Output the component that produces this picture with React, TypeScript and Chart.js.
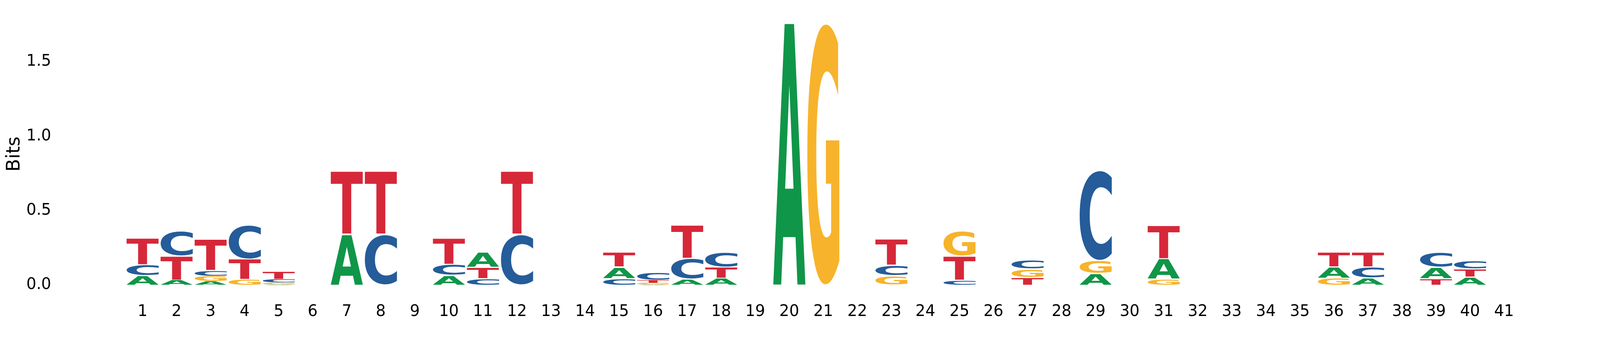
import { useEffect, useRef } from "react";
import { Chart, registerables } from "chart.js";

Chart.register(...registerables);

// Position labels (x axis)
const positions = [
  "1", "2", "3", "4", "5", "6", "7", "8", "9", "10",
  "11", "12", "13", "14", "15", "16", "17", "18", "19", "20",
  "21", "22", "23", "24", "25", "26", "27", "28", "29", "30",
  "31", "32", "33", "34", "35", "36", "37", "38", "39", "40", "41",
];

// Information content (bits) of each nucleotide at each position
const bitsA = [
  0.064, 0.033, 0.026, 0.0, 0.005, 0, 0.34, 0, 0, 0.066,
  0.104, 0, 0, 0, 0.077, 0.004, 0.04, 0.046, 0, 1.76,
  0, 0, 0, 0, 0, 0, 0, 0, 0.079, 0,
  0.136, 0, 0, 0, 0, 0.076, 0.046, 0, 0.077, 0.053, 0,
];
const bitsC = [
  0.074, 0.167, 0.036, 0.227, 0.022, 0, 0, 0.34, 0, 0.074,
  0.044, 0.34, 0, 0, 0.044, 0.054, 0.138, 0.102, 0, 0,
  0, 0, 0.073, 0, 0.032, 0, 0.06, 0, 0.606, 0,
  0, 0, 0, 0, 0, 0, 0.076, 0, 0.101, 0.058, 0,
];
const bitsG = [
  0, 0, 0.034, 0.038, 0.012, 0, 0, 0, 0, 0,
  0, 0, 0, 0, 0, 0.01, 0, 0, 0, 0,
  1.76, 0, 0.062, 0, 0.166, 0, 0.057, 0, 0.086, 0,
  0.041, 0, 0, 0, 0, 0.046, 0, 0, 0, 0, 0,
];
const bitsT = [
  0.179, 0.163, 0.21, 0.137, 0.053, 0, 0.426, 0.426, 0, 0.178,
  0.076, 0.426, 0, 0, 0.101, 0.018, 0.225, 0.075, 0, 0,
  0, 0, 0.176, 0, 0.164, 0, 0.05, 0, 0, 0,
  0.225, 0, 0, 0, 0, 0.101, 0.101, 0, 0.044, 0.056, 0,
];

const letters = ["A", "C", "G", "T"];
const letterColors = ["#109648", "#255C99", "#F7B32B", "#D62839"];
const yTicks = [0, 0.5, 1.0, 1.5];

function buildDatasets() {
  const series = [bitsA, bitsC, bitsG, bitsT];
  const ranges: [number, number][][] = series.map(() => []);
  const totals: number[] = [];
  for (let i = 0; i < positions.length; i++) {
    // smallest letter at the bottom, largest on top
    const order = [0, 1, 2, 3].sort((a, b) => series[a][i] - series[b][i]);
    let acc = 0;
    for (const k of order) {
      const v = series[k][i];
      ranges[k][i] = [acc, acc + v];
      acc += v;
    }
    totals.push(acc);
  }
  const datasets = letters.map((ch, k) => ({
    label: ch,
    data: ranges[k],
    backgroundColor: "rgba(0,0,0,0)",
    borderWidth: 0,
    barPercentage: 0.95,
    categoryPercentage: 1.0,
    glyph: ch,
    glyphColor: letterColors[k],
  }));
  return { datasets, maxTotal: Math.max(...totals) };
}

const glyphPlugin = {
  id: "glyphs",
  afterDatasetsDraw(chart: any) {
    const ctx: CanvasRenderingContext2D = chart.ctx;
    chart.data.datasets.forEach((ds: any, di: number) => {
      const meta = chart.getDatasetMeta(di);
      meta.data.forEach((el: any) => {
        const { x, y, base, width } = el.getProps(["x", "y", "base", "width"], true);
        const top = Math.min(y, base);
        const bottom = Math.max(y, base);
        const h = bottom - top;
        if (h < 0.6) return;
        const pad = Math.min(1.5, h * 0.06);
        const gTop = top + pad;
        const gH = h - 2 * pad;
        const left = x - width / 2;
        ctx.save();
        ctx.font = 'bold 200px "DejaVu Sans"';
        ctx.textAlign = "left";
        ctx.textBaseline = "alphabetic";
        const m = ctx.measureText(ds.glyph);
        const gw = m.actualBoundingBoxLeft + m.actualBoundingBoxRight;
        const gh = m.actualBoundingBoxAscent + m.actualBoundingBoxDescent;
        ctx.translate(left, gTop);
        ctx.scale(width / gw, gH / gh);
        ctx.fillStyle = ds.glyphColor;
        ctx.fillText(ds.glyph, m.actualBoundingBoxLeft, m.actualBoundingBoxAscent);
        ctx.restore();
      });
    });
  },
};

export default function App() {
  const canvasRef = useRef<HTMLCanvasElement | null>(null);

  useEffect(() => {
    const canvas = canvasRef.current;
    if (!canvas) return;
    const W = Math.min(window.innerWidth || 4500, 4500);
    const H = 900;
    const sx = W / 4500;
    canvas.width = W;
    canvas.height = H;
    canvas.style.width = W + "px";
    canvas.style.height = H + "px";
    const { datasets, maxTotal } = buildDatasets();
    const tickFont = { family: '"DejaVu Sans"', size: 40 };
    const chart = new Chart(canvas, {
      type: "bar",
      data: { labels: positions, datasets: datasets as any },
      plugins: [glyphPlugin],
      options: {
        animation: false,
        responsive: false,
        devicePixelRatio: 1,
        layout: { padding: { top: 59, right: 222 * sx, left: 0, bottom: 0 } },
        plugins: { legend: { display: false }, tooltip: { enabled: false } },
        scales: {
          x: {
            type: "category",
            stacked: true,
            grid: { display: false, drawTicks: false },
            border: { display: false },
            ticks: { color: "#000", font: tickFont, padding: 44.5, maxRotation: 0, autoSkip: false },
            afterFit: (s: any) => {
              s.height = 171;
              s.paddingLeft = 0;
              s.paddingRight = 0;
            },
          },
          y: {
            type: "linear",
            stacked: false,
            min: 0,
            max: maxTotal,
            grid: { display: false, drawTicks: false },
            border: { display: false },
            afterBuildTicks: (s: any) => {
              s.ticks = yTicks.map((v) => ({ value: v }));
            },
            ticks: {
              color: "#000",
              font: tickFont,
              padding: (353 - 144) * sx,
              callback: (v: any) => Number(v).toFixed(1),
            },
            title: {
              display: true,
              text: "Bits",
              color: "#000",
              font: { family: '"DejaVu Sans"', size: 48 },
              padding: { top: 41 * sx - 28.8, bottom: 0 },
            },
            afterFit: (s: any) => {
              s.width = 353 * sx;
              s.paddingTop = 0;
              s.paddingBottom = 0;
            },
          },
        },
      },
    });
    return () => chart.destroy();
  }, []);

  return (
    <div style={{ position: "absolute", left: 0, top: 0, background: "#fff" }}>
      <canvas ref={canvasRef} width={4500} height={900} style={{ display: "block" }} />
    </div>
  );
}
